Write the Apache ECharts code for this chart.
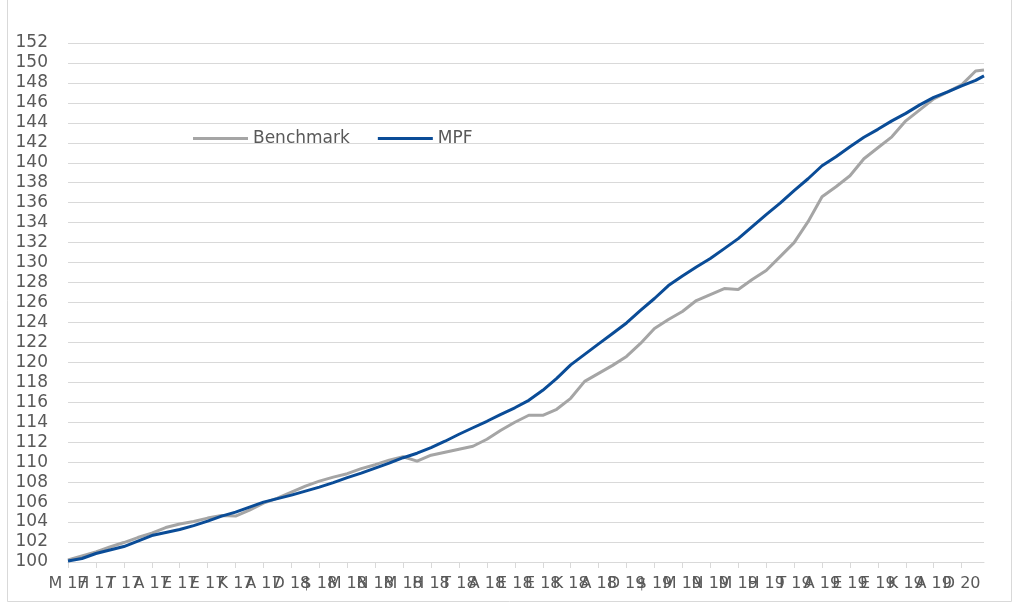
<!DOCTYPE html>
<html>
<head>
<meta charset="utf-8">
<script src="https://cdn.jsdelivr.net/npm/echarts@6/dist/echarts.min.js"></script>
<style>
  html, body { margin: 0; padding: 0; background: #fff; }
  #chart { width: 1028px; height: 603px; }
</style>
</head>
<body>
<div id="chart"></div>
<script>
// month offsets from the first tick (half-month sampling)
var months = [0, 0.5, 1, 1.5, 2, 2.5, 3, 3.5, 4, 4.5, 5, 5.5, 6, 6.5, 7, 7.5, 8, 8.5, 9, 9.5,
    10, 10.5, 11, 11.5, 12, 12.5, 13, 13.5, 14, 14.5, 15, 15.5, 16, 16.5, 17, 17.5, 18, 18.5, 19, 19.5,
    20, 20.5, 21, 21.5, 22, 22.5, 23, 23.5, 24, 24.5, 25, 25.5, 26, 26.5, 27, 27.5, 28, 28.5, 29, 29.5,
    30, 30.5, 31, 31.5, 32, 32.5, 32.8];

var benchmark = [100.2, 100.6, 101.0, 101.5, 101.95, 102.45, 102.9, 103.45, 103.8, 104.05,
    104.4, 104.65, 104.6, 105.2, 105.9, 106.4, 107.0, 107.6, 108.1, 108.5,
    108.85, 109.35, 109.75, 110.2, 110.55, 110.1, 110.7, 111.0, 111.3, 111.6,
    112.3, 113.2, 114.0, 114.7, 114.7, 115.3, 116.4, 118.1, 118.9, 119.7,
    120.6, 121.9, 123.4, 124.3, 125.1, 126.2, 126.8, 127.4, 127.3, 128.3,
    129.2, 130.6, 132.0, 134.1, 136.6, 137.6, 138.7, 140.4, 141.5, 142.6,
    144.2, 145.3, 146.4, 147.1, 147.8, 149.2, 149.3];

var mpf = [100.1, 100.35, 100.85, 101.2, 101.55, 102.1, 102.65, 102.95, 103.25, 103.65,
    104.1, 104.6, 105.0, 105.5, 106.0, 106.35, 106.7, 107.1, 107.5, 107.95,
    108.45, 108.9, 109.4, 109.9, 110.45, 110.9, 111.45, 112.1, 112.8, 113.45,
    114.1, 114.8, 115.45, 116.2, 117.2, 118.4, 119.75, 120.8, 121.85, 122.9,
    123.95, 125.2, 126.4, 127.7, 128.65, 129.55, 130.4, 131.4, 132.4, 133.6,
    134.8, 135.95, 137.2, 138.4, 139.7, 140.6, 141.6, 142.55, 143.35, 144.2,
    144.95, 145.8, 146.55, 147.1, 147.7, 148.25, 148.7];

// tick labels, one per month tick
var monthLabels = ['M 17', 'H 17', 'T 17', 'A 17', 'E 17', 'E 17', 'K 17', 'A 17',
    'D 18', '$ 18', 'M 18', 'N 18', 'M 18', 'H 18', 'T 18', 'A 18', 'E 18', 'E 18', 'K 18', 'A 18',
    'D 19', '$ 19', 'M 19', 'N 19', 'M 19', 'H 19', 'T 19', 'A 19', 'E 19', 'E 19', 'K 19', 'A 19',
    'D 20'];

var tickValues = monthLabels.map(function (l, i) { return i; });
// labels split over two stacked axes so that none gets hidden for overlapping
var evenTicks = tickValues.filter(function (v) { return v % 2 === 0; });
var oddTicks = tickValues.filter(function (v) { return v % 2 === 1; });

function pairs(xs, ys) {
    return xs.map(function (x, i) { return [x, ys[i]]; });
}

var chart = echarts.init(document.getElementById('chart'));
var font = 'DejaVu Sans';

function monthAxis(labelValues, showLine) {
    return {
        type: 'value',
        position: 'bottom',
        min: 0,
        max: 32.8,
        interval: 1,
        splitLine: { show: false },
        axisLine: { show: showLine, lineStyle: { color: '#d9d9d9', width: 1 } },
        axisTick: {
            show: showLine, length: 6, inside: false,
            customValues: tickValues,
            lineStyle: { color: '#d9d9d9' }
        },
        axisLabel: {
            customValues: labelValues,
            hideOverlap: false,
            margin: 14,
            color: '#595959',
            fontSize: 16,
            fontFamily: font,
            formatter: function (v) { return monthLabels[Math.round(v)] || ''; }
        }
    };
}

var option = {
    animation: false,
    backgroundColor: '#fff',
    graphic: [{
        type: 'rect',
        shape: { x: 7.5, y: -2, width: 1004, height: 603.5 },
        style: { fill: 'none', stroke: '#d9d9d9', lineWidth: 1 },
        silent: true
    }],
    legend: {
        left: 188,
        top: 125,
        itemWidth: 55,
        itemHeight: 3,
        itemGap: 28,
        icon: 'rect',
        textStyle: { color: '#595959', fontSize: 17, fontFamily: font },
        data: ['Benchmark', 'MPF']
    },
    grid: { left: 68, right: 44, top: 43, bottom: 41 },
    xAxis: [monthAxis(evenTicks, true), monthAxis(oddTicks, false)],
    yAxis: {
        type: 'value',
        min: 100,
        max: 152,
        interval: 2,
        axisLine: { show: false },
        axisTick: { show: false },
        splitLine: { lineStyle: { color: '#d9d9d9', width: 1 } },
        axisLabel: { margin: 20, color: '#595959', fontSize: 17, fontFamily: font }
    },
    series: [
        {
            name: 'Benchmark',
            type: 'line',
            showSymbol: false,
            data: pairs(months, benchmark),
            itemStyle: { color: '#a5a5a5' },
            lineStyle: { color: '#a5a5a5', width: 3 }
        },
        {
            name: 'MPF',
            type: 'line',
            showSymbol: false,
            data: pairs(months, mpf),
            itemStyle: { color: '#0a4c97' },
            lineStyle: { color: '#0a4c97', width: 3 }
        }
    ]
};
chart.setOption(option);
</script>
</body>
</html>
